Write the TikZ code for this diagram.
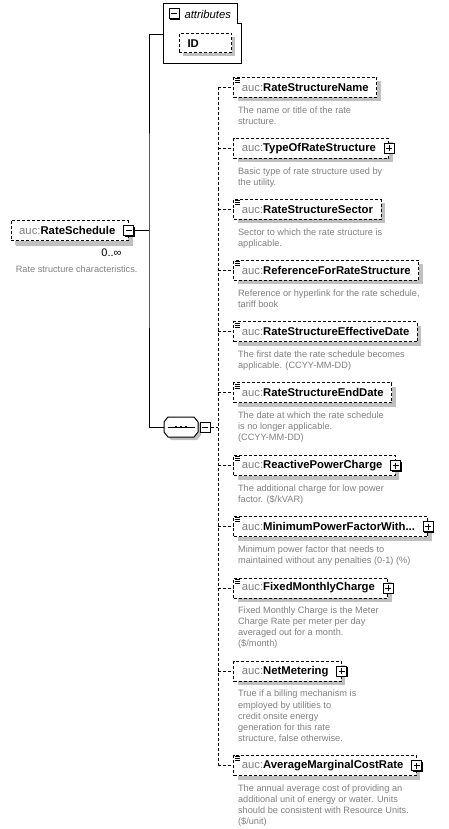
\documentclass[tikz,border=0pt]{standalone}
\usepackage{fontspec}
\setmainfont{Liberation Sans}
\usetikzlibrary{positioning,shadows}

\definecolor{shadegray}{RGB}{192,192,192}
\definecolor{notegray}{RGB}{128,128,128}
\definecolor{prefixgray}{RGB}{128,128,128}

\newcommand{\auc}{{\mdseries\color{prefixgray}auc:}}

\tikzset{
  elem/.style={draw, dash pattern=on 3pt off 2pt, fill=white, anchor=west,
    minimum height=20pt, inner xsep=8pt, inner ysep=0pt,
    font=\fontsize{11.3}{13}\selectfont\bfseries,
    drop shadow={shadow xshift=4pt, shadow yshift=-4pt, fill=shadegray, opacity=1}},
  haskids/.style={elem, execute at end node={\hspace{5pt}}},
  note/.style={anchor=north west, align=left, inner sep=0pt, text=notegray,
    font=\fontsize{9.2}{11.1}\selectfont},
  link/.style={dash pattern=on 3pt off 2pt},
  iconbox/.style={draw, solid, fill=white, minimum size=10pt, inner sep=0pt,
    drop shadow={shadow xshift=1pt, shadow yshift=-1pt, fill=black, opacity=1}},
  expander/.style={iconbox, path picture={
      \draw ([xshift=2pt]path picture bounding box.west) -- ([xshift=-2pt]path picture bounding box.east)
            ([yshift=-2pt]path picture bounding box.north) -- ([yshift=2pt]path picture bounding box.south);}},
  collapser/.style={iconbox, path picture={
      \draw ([xshift=2pt]path picture bounding box.west) -- ([xshift=-2pt]path picture bounding box.east);}},
}

\begin{document}
\begin{tikzpicture}[x=1pt, y=-1pt, line width=1pt]
  \useasboundingbox (0,0) rectangle (448,829);

  % the element itself
  \node[haskids, drop shadow={shadow xshift=5pt, shadow yshift=-5pt, fill=shadegray, opacity=1}]
    (ratesched) at (10.7,230.5) {\auc RateSchedule};
  \node[collapser] (rsminus) at (ratesched.east) {};
  \node[anchor=east, inner sep=0pt, font=\fontsize{11}{13}\selectfont] (occurs) at (122,253) {0..∞};
  \node[note] (rsnote) at (15.3,265.8) {Rate structure characteristics.};

  % attributes
  \draw[fill=white] (163.5,3.5) -- (237,3.5) -- (237,24) -- (241,24) -- (241,64) -- (163.5,64) -- cycle;
  \coordinate (attrs) at (163.5,35);
  \node[collapser] (attrminus) at (174,14) {};
  \node[anchor=west, inner sep=0pt, font=\fontsize{11.3}{13}\selectfont\itshape] (attrlabel) at (184,14) {attributes};
  \node[draw, dash pattern=on 3pt off 2pt, fill=white, anchor=west, minimum height=19.6pt,
    inner xsep=8.5pt, text width=35.5pt, align=left, font=\fontsize{11.3}{13}\selectfont\bfseries,
    drop shadow={shadow xshift=3.5pt, shadow yshift=-3.5pt, fill=shadegray, opacity=1}]
    (idattr) at (178.5,43.2) {ID};

  % sequence
  \node[minimum width=34pt, minimum height=20pt, inner sep=0pt] (seq) at (181,427) {};
  \draw[fill=white, drop shadow={shadow xshift=3pt, shadow yshift=-3pt, fill=shadegray, opacity=1}]
    (164,422) -- (168,417) -- (194,417) -- (198,422) -- (198,432) -- (194,437) -- (168,437) -- (164,432) -- cycle;
  \draw ([xshift=4pt]seq.west) -- ([xshift=-4pt]seq.east);
  \foreach \dx in {-5,0,5}
    \fill ([xshift=\dx pt]seq.center) ++(-1.25,-1.25) rectangle ++(2.5,2.5);
  \node[collapser] (seqminus) at ([xshift=6.5pt]seq.east) {};

  \coordinate (trunk) at (149,230.5);
  \draw (rsminus.east) -- (trunk);
  \draw (attrs) -| (trunk) |- (seq.west);

  % children
  \node[elem] (rsname) at (233.3,87.5) {\auc RateStructureName};
  \node[note] (rsnamenote) at ([xshift=4.3pt,yshift=-8pt]rsname.south west)
    {The name or title of the rate\\structure.};
  \node[haskids] (ratetype) at (233.3,148.5) {\auc TypeOfRateStructure};
  \node[note] (ratetypenote) at ([xshift=4.3pt,yshift=-8pt]ratetype.south west)
    {Basic type of rate structure used by\\the utility.};
  \node[elem] (rssector) at (233.3,209.4) {\auc RateStructureSector};
  \node[note] (rssectornote) at ([xshift=4.3pt,yshift=-8pt]rssector.south west)
    {Sector to which the rate structure is\\applicable.};
  \node[elem] (rsref) at (233.3,270.4) {\auc ReferenceForRateStructure};
  \node[note] (rsrefnote) at ([xshift=4.3pt,yshift=-8pt]rsref.south west)
    {Reference or hyperlink for the rate schedule,\\tariff book};
  \node[elem] (rseff) at (233.3,331.9) {\auc RateStructureEffectiveDate};
  \node[note] (rseffnote) at ([xshift=4.3pt,yshift=-8pt]rseff.south west)
    {The first date the rate schedule becomes\\applicable. (CCYY-MM-DD)};
  \node[elem] (rsend) at (233.3,392.9) {\auc RateStructureEndDate};
  \node[note] (rsendnote) at ([xshift=4.3pt,yshift=-8pt]rsend.south west)
    {The date at which the rate schedule\\is no longer applicable.\\(CCYY-MM-DD)};
  \node[haskids] (reactive) at (233.3,465.5) {\auc ReactivePowerCharge};
  \node[note] (reactivenote) at ([xshift=4.3pt,yshift=-8pt]reactive.south west)
    {The additional charge for low power\\factor. (\$/kVAR)};
  \node[haskids] (minpf) at (233.3,526.5) {\auc MinimumPowerFactorWith...};
  \node[note] (minpfnote) at ([xshift=4.3pt,yshift=-8pt]minpf.south west)
    {Minimum power factor that needs to\\maintained without any penalties (0-1) (\%)};
  \node[haskids] (fixed) at (233.3,588) {\auc FixedMonthlyCharge};
  \node[note] (fixednote) at ([xshift=4.3pt,yshift=-8pt]fixed.south west)
    {Fixed Monthly Charge is the Meter\\Charge Rate per meter per day\\averaged out for a month.\\(\$/month)};
  \node[haskids] (netmeter) at (233.3,671.3) {\auc NetMetering};
  \node[note] (netmeternote) at ([xshift=4.3pt,yshift=-8pt]netmeter.south west)
    {True if a billing mechanism is\\employed by utilities to\\credit onsite energy\\generation for this rate\\structure, false otherwise.};
  \node[haskids] (avgcost) at (233.3,765.6) {\auc AverageMarginalCostRate};
  \node[note] (avgcostnote) at ([xshift=4.3pt,yshift=-8pt]avgcost.south west)
    {The annual average cost of providing an\\additional unit of energy or water. Units\\should be consistent with Resource Units.\\(\$/unit)};

  \foreach \n in {ratetype,reactive,minpf,fixed,netmeter,avgcost}
    \node[expander] at (\n.east) {};
  % simple content marks
  \foreach \n in {rsname,rssector,rsref,rseff,rsend,reactive,minpf,fixed,avgcost}
    \foreach \dy in {1.5,3.5,5.5}
      \draw[line width=0.8pt] ([xshift=1.5pt,yshift=-\dy pt]\n.north west) -- ++(5,0);

  % dashed connectors of the sequence
  \coordinate (spine) at (218,427);
  \draw[link] (seqminus.east) -- (spine);
  \draw[link] (rsname.west -| spine) -- (avgcost.west -| spine);
  \foreach \n in {rsname,ratetype,rssector,rsref,rseff,rsend,reactive,minpf,fixed,netmeter,avgcost}
    \draw[link] (\n.west -| spine) -- (\n.west);
\end{tikzpicture}
\end{document}
